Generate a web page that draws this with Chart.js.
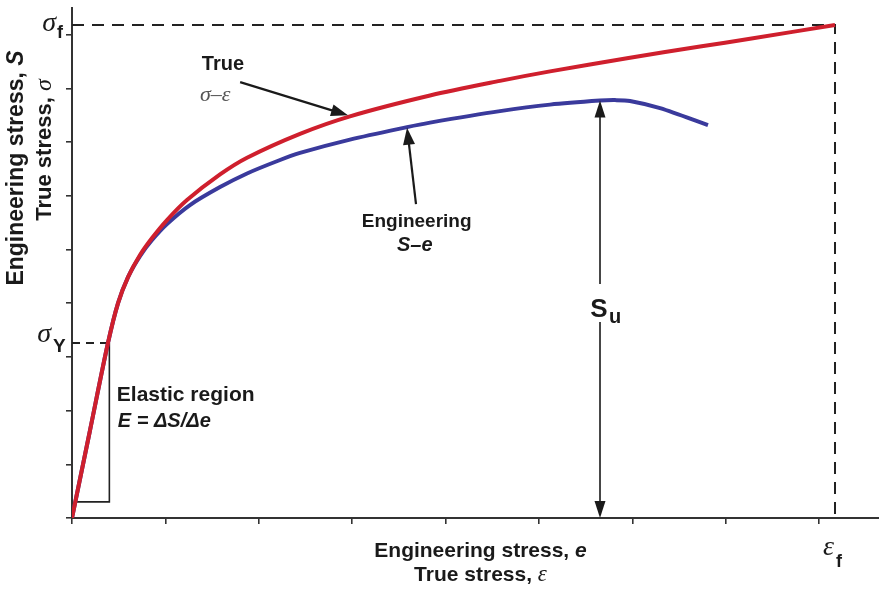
<!DOCTYPE html>
<html><head><meta charset="utf-8">
<script src="https://cdn.jsdelivr.net/npm/chart.js@4/dist/chart.umd.min.js"></script>
<style>html,body{margin:0;padding:0;background:#fff;overflow:hidden}canvas{display:block}</style>
</head><body>
<canvas id="c" width="879" height="593" style="width:879px;height:593px"></canvas>
<script>
// ---- data (strain units = tick spacing, stress units = tick spacing) ----
const xTicks = [0,1,2,3,4,5,6,7,8];
const yTicks = [0,1,2,3,4,5,6,7,8,9];
const trueStrain = [0,0.1925,0.385,0.493,0.600,0.728,0.857,1.017,1.231,1.585,1.874,2.441,2.976,3.833,4.582,5.118,5.942,6.724,7.259,8.169];
const trueStress = [0,1.63,3.259,4.004,4.488,4.898,5.214,5.549,5.922,6.400,6.711,7.156,7.482,7.870,8.143,8.320,8.564,8.782,8.926,9.185];
const engStrain = [0,0.1925,0.385,0.493,0.600,0.728,0.857,1.017,1.263,1.585,1.874,2.200,2.441,2.976,3.587,3.833,4.582,5.118,5.653,5.814,5.974,6.296,6.809];
const engStress = [0,1.63,3.259,4.004,4.488,4.879,5.177,5.475,5.829,6.164,6.418,6.650,6.800,7.048,7.281,7.365,7.579,7.700,7.775,7.784,7.769,7.635,7.318];
const sigmaF = 9.185, epsF = 8.169;
const sigmaY = 3.26, epsY = 0.39;
const boxX = [0.40, 0.40, 0.045];
const boxY = [3.26, 0.30, 0.30];
const suStrain = 5.653, suStress = 7.775;
const trueArrow = {x0:1.80, y0:8.12, x1:2.955, y1:7.50};
const engArrow  = {x0:3.683, y0:5.847, x1:3.587, y1:7.27};
const labels = {
  trueTxt:{x:1.39, y:8.44}, sigEps:{x:1.37, y:7.88},
  engTxt:{x:3.69, y:5.51}, seTxt:{x:3.67, y:5.07},
  elastic:{x:0.48, y:2.29}, eq:{x:0.49, y:1.79},
  su:{y:3.74, gapTop:4.36, gapBot:3.65}
};

const pts = (xs, ys) => xs.map((v,i)=>({x:v, y:ys[i]}));
const RED = '#cf1f2d', BLUE = '#3a3a9c', INK = '#1a1a1a';
const SANS = '"Liberation Sans", Arial, sans-serif';
const SERIF = '"Liberation Serif", "DejaVu Serif", serif';

function runs(ctx, items, cx, cy, align){
  let w = 0;
  items.forEach(it=>{ctx.font=it[1]; w+=ctx.measureText(it[0]).width;});
  let x = align==='left' ? cx : cx - w/2;
  items.forEach(it=>{ctx.font=it[1]; ctx.fillText(it[0], x, cy+(it[2]||0)); x+=ctx.measureText(it[0]).width;});
}
function arrowHead(ctx, x0,y0,x1,y1, len, hw){
  const a = Math.atan2(y1-y0, x1-x0);
  ctx.beginPath();
  ctx.moveTo(x1,y1);
  ctx.lineTo(x1-len*Math.cos(a)+hw*Math.sin(a), y1-len*Math.sin(a)-hw*Math.cos(a));
  ctx.lineTo(x1-len*Math.cos(a)-hw*Math.sin(a), y1-len*Math.sin(a)+hw*Math.cos(a));
  ctx.closePath(); ctx.fill();
}
function arrow(ctx, x0,y0,x1,y1, lw){
  const a = Math.atan2(y1-y0, x1-x0);
  ctx.lineWidth = lw;
  ctx.beginPath(); ctx.moveTo(x0,y0); ctx.lineTo(x1-10*Math.cos(a), y1-10*Math.sin(a)); ctx.stroke();
  arrowHead(ctx, x0,y0,x1,y1, 17, 6);
}

const annot = {
  id:'annot',
  afterDraw(chart){
    const {ctx, scales:{x, y}} = chart;
    const X = v=>x.getPixelForValue(v), Y = v=>y.getPixelForValue(v);
    ctx.save();
    ctx.fillStyle = INK; ctx.strokeStyle = INK;
    ctx.textBaseline = 'middle';

    arrow(ctx, X(trueArrow.x0), Y(trueArrow.y0), X(trueArrow.x1), Y(trueArrow.y1), 2.2);
    arrow(ctx, X(engArrow.x0), Y(engArrow.y0), X(engArrow.x1), Y(engArrow.y1), 2.2);

    const sx = X(suStrain);
    ctx.lineWidth = 1.6;
    ctx.beginPath();
    ctx.moveTo(sx, Y(suStress)+10); ctx.lineTo(sx, Y(labels.su.gapTop));
    ctx.moveTo(sx, Y(labels.su.gapBot)); ctx.lineTo(sx, Y(0)-10);
    ctx.stroke();
    arrowHead(ctx, sx, Y(0)-50, sx, Y(suStress), 17, 5.5);
    arrowHead(ctx, sx, Y(suStress), sx, Y(0), 17, 5.5);
    ctx.textBaseline = 'alphabetic';
    ctx.textAlign = 'center';
    ctx.font = 'bold 26px '+SANS; ctx.fillText('S', sx-1, Y(labels.su.y));
    ctx.textAlign = 'left';
    ctx.font = 'bold 20px '+SANS; ctx.fillText('u', sx+9, Y(labels.su.y)+6);
    ctx.textBaseline = 'middle';

    ctx.textAlign = 'left';
    ctx.font = 'bold 20px '+SANS; ctx.fillText('True', X(labels.trueTxt.x), Y(labels.trueTxt.y));
    ctx.fillStyle = '#555';
    ctx.font = 'italic 22px '+SERIF; ctx.fillText('σ–ε', X(labels.sigEps.x), Y(labels.sigEps.y));
    ctx.fillStyle = INK;
    ctx.textAlign = 'center';
    ctx.font = 'bold 19px '+SANS; ctx.fillText('Engineering', X(labels.engTxt.x), Y(labels.engTxt.y));
    ctx.font = 'bold italic 20px '+SANS; ctx.fillText('S–e', X(labels.seTxt.x), Y(labels.seTxt.y));
    ctx.textAlign = 'left';
    ctx.font = 'bold 21px '+SANS; ctx.fillText('Elastic region', X(labels.elastic.x), Y(labels.elastic.y));
    ctx.font = 'bold italic 20px '+SANS; ctx.fillText('E = ΔS/Δe', X(labels.eq.x), Y(labels.eq.y));

    const ax = X(0), ay = Y(0);
    ctx.textAlign = 'right';
    ctx.font = 'italic 28px '+SERIF; ctx.fillText('σ', ax-16, Y(sigmaF)-1);
    ctx.textAlign = 'left'; ctx.textBaseline = 'alphabetic';
    ctx.font = 'bold 18px '+SANS; ctx.fillText('f', ax-15, Y(sigmaF)+13);
    ctx.textAlign = 'right'; ctx.textBaseline = 'middle';
    ctx.font = 'italic 28px '+SERIF; ctx.fillText('σ', ax-21, Y(sigmaY)-8);
    ctx.textAlign = 'left'; ctx.textBaseline = 'alphabetic';
    ctx.font = 'bold 19px '+SANS; ctx.fillText('Y', ax-19, Y(sigmaY)+9);
    ctx.textAlign = 'right'; ctx.textBaseline = 'middle';
    ctx.font = 'italic 28px '+SERIF; ctx.fillText('ε', X(epsF)-1, ay+30);
    ctx.textAlign = 'left'; ctx.textBaseline = 'alphabetic';
    ctx.font = 'bold 18px '+SANS; ctx.fillText('f', X(epsF)+1, ay+49);

    ctx.textBaseline = 'middle'; ctx.textAlign = 'left';
    const cx = (chart.chartArea.left + chart.chartArea.right)/2 + 5;
    runs(ctx, [['Engineering stress, ', 'bold 21px '+SANS], ['e', 'bold italic 21px '+SANS]], cx, ay+33);
    runs(ctx, [['True stress, ', 'bold 21px '+SANS], ['ε', 'italic 23px '+SERIF]], cx, ay+57);
    ctx.save();
    ctx.translate(17, 168); ctx.rotate(-Math.PI/2);
    runs(ctx, [['Engineering stress, ', 'bold 23px '+SANS], ['S', 'bold italic 23px '+SANS]], 0, 0);
    ctx.restore();
    ctx.save();
    ctx.translate(45, 150); ctx.rotate(-Math.PI/2);
    runs(ctx, [['True stress, ', 'bold 22px '+SANS], ['σ', 'italic 24px '+SERIF]], 0, 0);
    ctx.restore();
    ctx.restore();
  }
};

const axisCommon = {
  type:'linear',
  border:{display:true, color:'#333', width:2},
  grid:{drawOnChartArea:false, drawTicks:true, tickLength:6, color:'#333', lineWidth:1.6},
  ticks:{display:false}
};

new Chart(document.getElementById('c'), {
  type:'line',
  data:{datasets:[
    {data:pts(trueStrain,trueStress), borderColor:RED, borderWidth:4, pointRadius:0, tension:0.3, order:0},
    {data:pts(engStrain,engStress), borderColor:BLUE, borderWidth:4, pointRadius:0, tension:0.3, order:1},
    {data:pts([0,epsF,epsF],[sigmaF,sigmaF,0]), borderColor:'#222', borderWidth:2, borderDash:[12,8], pointRadius:0, order:2},
    {data:pts([0,epsY],[sigmaY,sigmaY]), borderColor:'#222', borderWidth:2, borderDash:[8,6], pointRadius:0, order:2},
    {data:pts(boxX,boxY), borderColor:'#222', borderWidth:1.6, pointRadius:0, order:3}
  ]},
  options:{
    responsive:false, animation:false, devicePixelRatio:1,
    layout:{padding:{top:8, right:0, left:0, bottom:0}},
    plugins:{legend:{display:false}, tooltip:{enabled:false}},
    scales:{
      x:{...axisCommon, min:0, max:8.64,
         afterBuildTicks:s=>{s.ticks = xTicks.map(v=>({value:v}));},
         afterFit:s=>{s.height = 75;}},
      y:{...axisCommon, min:0, max:9.5,
         afterBuildTicks:s=>{s.ticks = yTicks.map(v=>({value:v}));},
         afterFit:s=>{s.width = 72;}}
    }
  },
  plugins:[annot]
});
</script>
</body></html>
